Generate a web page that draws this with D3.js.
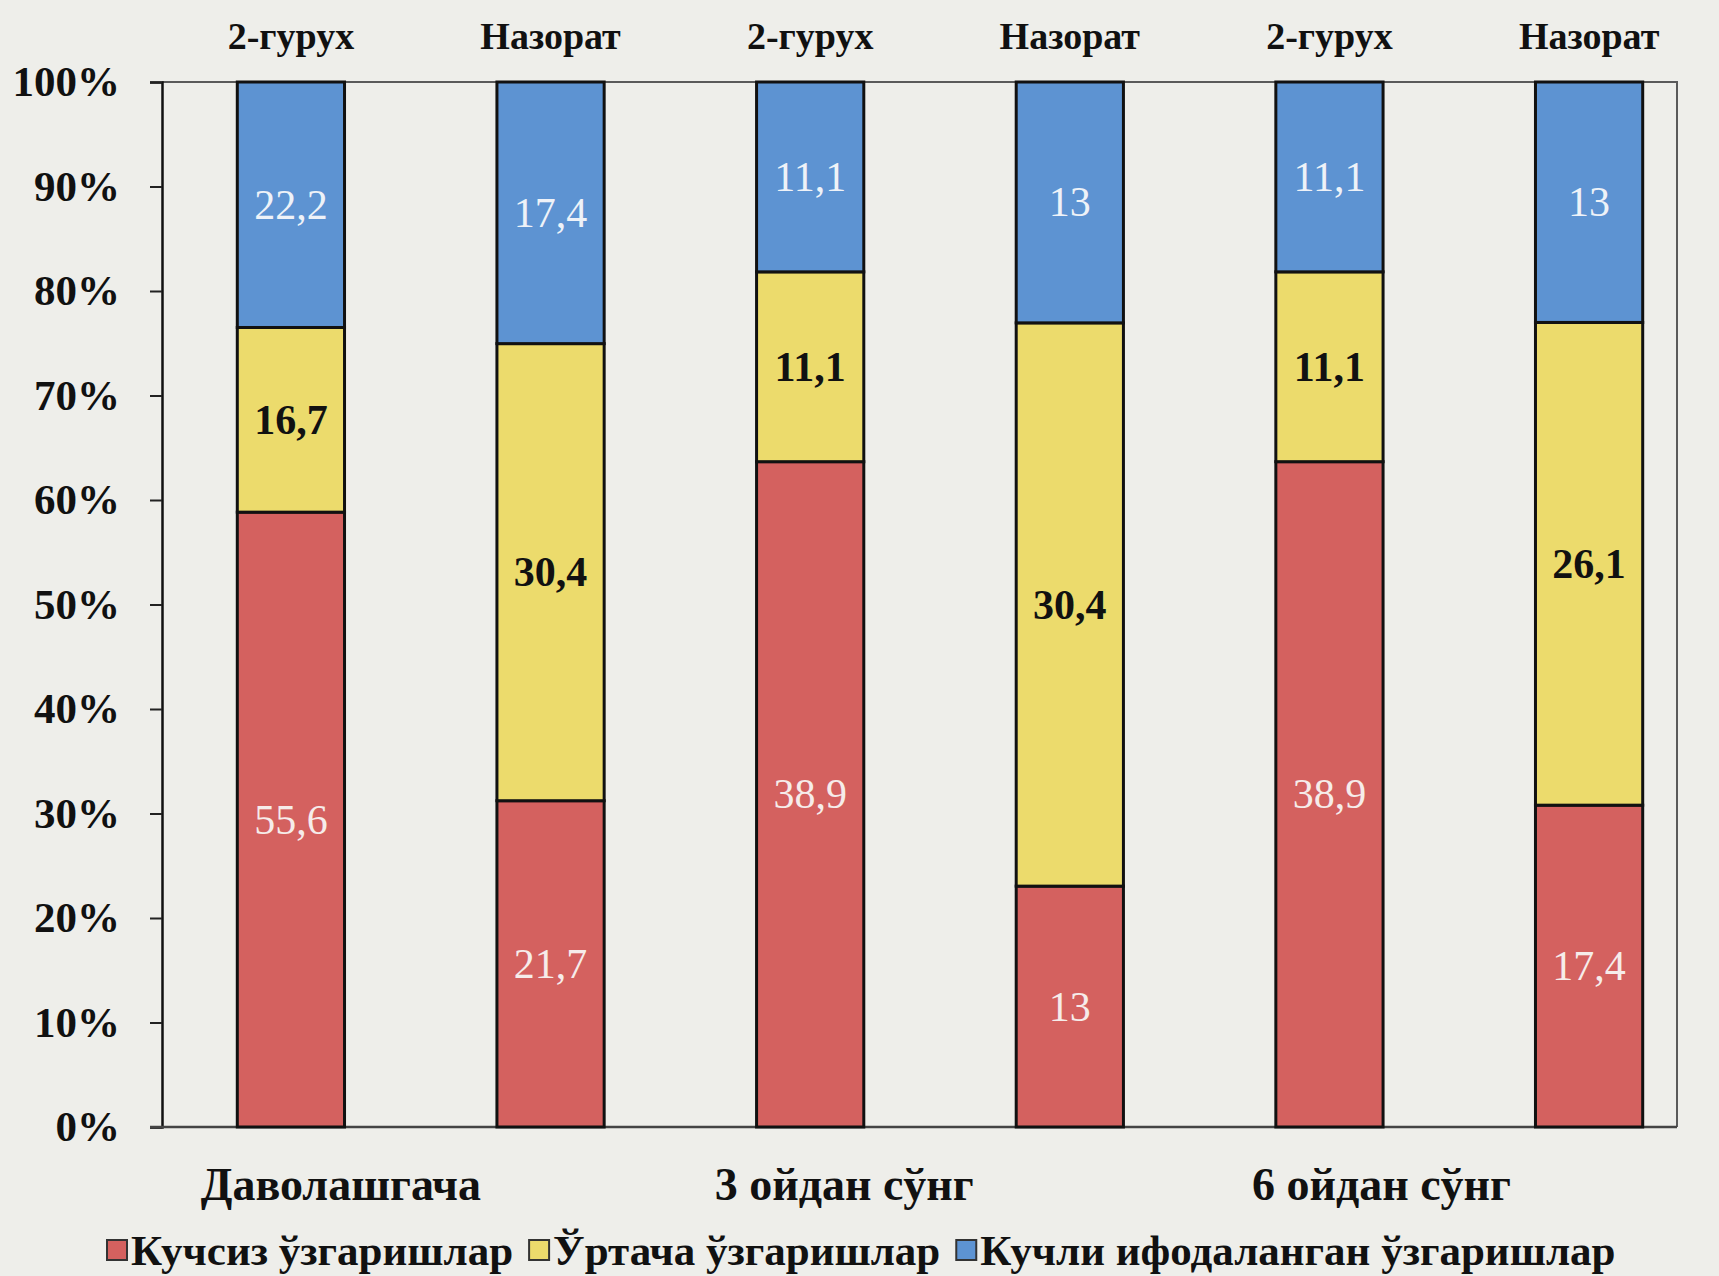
<!DOCTYPE html>
<html>
<head>
<meta charset="utf-8">
<script src="https://cdn.jsdelivr.net/npm/d3@7"></script>
<style>
  html, body { margin: 0; padding: 0; background: #eeeeea; }
  svg { display: block; }
  text { font-family: "Liberation Serif", "Times New Roman", serif; }
</style>
</head>
<body>
<svg id="chart" width="1719" height="1276"></svg>
<script>
// Time points (groups) and the two cohorts shown in each
const groups = ["Даволашгача", "3 ойдан сўнг", "6 ойдан сўнг"];
const cohorts = ["2-гурух", "Назорат"];

// Severity series, one value per bar (group × cohort order)
const seriesNames = ["Кучсиз ўзгаришлар", "Ўртача ўзгаришлар", "Кучли ифодаланган ўзгаришлар"];
const weak     = [55.6, 21.7, 38.9, 13,   38.9, 17.4];
const moderate = [16.7, 30.4, 11.1, 30.4, 11.1, 26.1];
const strong   = [22.2, 17.4, 11.1, 13,   11.1, 13];

const yTickValues = [0, 0.1, 0.2, 0.3, 0.4, 0.5, 0.6, 0.7, 0.8, 0.9, 1];
const seriesColors = ["#d4615f", "#ecdb6c", "#5d93d2"];
const labelColors  = ["#f6ecea", "#111111", "#eef2f8"];
const labelWeights = ["normal", "bold", "normal"];

// Rows for the stack
const keys = ["weak", "moderate", "strong"];
const rows = [];
groups.forEach((g, gi) => cohorts.forEach((c, ci) => {
  const i = gi * cohorts.length + ci;
  rows.push({ id: i, group: g, cohort: c, weak: weak[i], moderate: moderate[i], strong: strong[i] });
}));

const stacked = d3.stack().keys(keys).offset(d3.stackOffsetExpand)(rows);

const svg = d3.select("#chart");
const plotLeft = 162, plotRight = 1677, plotTop = 82, plotBottom = 1127;

const x = d3.scaleBand().domain(rows.map(r => r.id)).range([plotLeft, 1718]).paddingInner(0.587).paddingOuter(0.29);
const y = d3.scaleLinear().domain([0, 1]).range([plotBottom, plotTop]);

// Plot-area frame (top and right edges)
svg.append("path")
  .attr("d", `M${plotLeft},${plotTop}H${plotRight}V${plotBottom}`)
  .attr("fill", "none").attr("stroke", "#5a5a5a").attr("stroke-width", 2);

// Y axis
const yAxis = d3.axisLeft(y).tickValues(yTickValues).tickFormat(d3.format(".0%")).tickSize(12).tickPadding(30);
const gy = svg.append("g").attr("transform", `translate(${plotLeft},0)`).call(yAxis);
gy.select(".domain").attr("stroke", "#111").attr("stroke-width", 2.5);
gy.selectAll(".tick line").attr("stroke", "#222").attr("stroke-width", 2);
gy.selectAll(".tick text")
  .attr("font-size", 43).attr("font-weight", "bold").attr("fill", "#111")
  .attr("font-family", "'Liberation Serif', serif");

// X baseline
svg.append("line")
  .attr("x1", plotLeft - 12).attr("x2", plotRight)
  .attr("y1", plotBottom).attr("y2", plotBottom)
  .attr("stroke", "#444").attr("stroke-width", 2.5);

// Bars
const layer = svg.append("g").selectAll("g").data(stacked).join("g")
  .attr("fill", (d, i) => seriesColors[i]);

layer.selectAll("rect").data(d => d).join("rect")
  .attr("x", d => x(d.data.id))
  .attr("width", x.bandwidth())
  .attr("y", d => y(d[1]))
  .attr("height", d => y(d[0]) - y(d[1]))
  .attr("stroke", "#111").attr("stroke-width", 3);

// Value labels in each segment
const fmt = v => String(v).replace(".", ",");
stacked.forEach((s, si) => {
  svg.append("g").selectAll("text").data(s).join("text")
    .attr("x", d => x(d.data.id) + x.bandwidth() / 2)
    .attr("y", d => y((d[0] + d[1]) / 2))
    .attr("text-anchor", "middle")
    .attr("dominant-baseline", "central")
    .attr("font-size", 42)
    .attr("font-weight", labelWeights[si])
    .attr("fill", labelColors[si])
    .text(d => fmt(d.data[keys[si]]));
});

// Cohort names above each bar
svg.append("g").selectAll("text").data(rows).join("text")
  .attr("x", d => x(d.id) + x.bandwidth() / 2)
  .attr("y", 36)
  .attr("text-anchor", "middle")
  .attr("dominant-baseline", "central")
  .attr("font-size", 38).attr("font-weight", "bold").attr("fill", "#111")
  .text(d => d.cohort);

// Time-point labels under each pair
const groupOffsets = [50, 34, 52];
svg.append("g").selectAll("text").data(groups).join("text")
  .attr("x", (g, gi) => x(gi * 2) + x.bandwidth() / 2 + groupOffsets[gi])
  .attr("y", 1184)
  .attr("text-anchor", "middle")
  .attr("dominant-baseline", "central")
  .attr("font-size", 46).attr("font-weight", "bold").attr("fill", "#111")
  .text(g => g);

// Legend
const legend = svg.append("g").attr("transform", "translate(107,1250)");
let lx = 0;
seriesNames.forEach((name, i) => {
  legend.append("rect")
    .attr("x", lx).attr("y", -10).attr("width", 20).attr("height", 20)
    .attr("fill", seriesColors[i]).attr("stroke", "#333").attr("stroke-width", 2);
  const t = legend.append("text")
    .attr("x", lx + 24).attr("y", 0)
    .attr("dominant-baseline", "central")
    .attr("font-size", 43).attr("font-weight", "bold").attr("fill", "#111")
    .text(name);
  lx += 24 + t.node().getComputedTextLength() + 16;
});
</script>
</body>
</html>
